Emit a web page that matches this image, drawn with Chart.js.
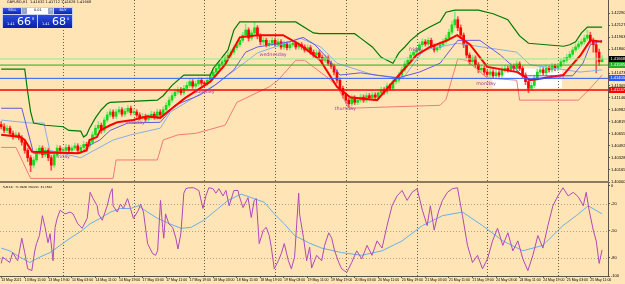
<!DOCTYPE html>
<html>
<head>
<meta charset="utf-8">
<title>GBPUSD,H1</title>
<script src="https://cdn.jsdelivr.net/npm/chart.js@4.4.1/dist/chart.umd.min.js"></script>
<style>
  html,body{margin:0;padding:0;background:#FFE4B5;}
  #wrap{position:relative;width:625px;height:284px;overflow:hidden;background:#FFE4B5;font-family:"DejaVu Sans",Arial,sans-serif;}
  canvas{position:absolute;left:0;}
  #cMain{top:0;}
  #cOsc{top:181px;}
  #sep{position:absolute;left:0;top:181px;width:609px;height:2px;background:#8A7A5A;}
  .tiny{position:absolute;transform-origin:0 0;transform:scale(0.5);white-space:nowrap;color:#000;}
  #hdr{left:7px;top:0px;font-size:7px;line-height:8px;}
  #osclbl{left:3px;top:185px;font-size:5.6px;line-height:7px;}
  #otp{position:absolute;left:2px;top:7px;width:71px;height:21px;background:#C9D3EE;}
  .bx{position:absolute;display:flex;align-items:center;justify-content:center;overflow:hidden;}
  .bx span{display:block;font-size:7px;line-height:7px;transform:scale(0.5);white-space:nowrap;}
  .blue{background:linear-gradient(#3556e4,#0b25b4);color:#fff;}
  .gray{background:#9aa6c8;color:#fff;}
  .white{background:#fff;color:#000;}
  .pbox{position:absolute;background:linear-gradient(#2a4ce0,#0a20a8);color:#fff;overflow:hidden;}
  .pbox .s{position:absolute;font-size:7px;line-height:7px;transform-origin:0 0;transform:scale(0.5);}
  .pbox .big{position:absolute;font-size:11px;line-height:11px;}
</style>
</head>
<body>
<div id="wrap">
  <canvas id="cMain" width="625" height="186"></canvas>
  <canvas id="cOsc" width="625" height="103"></canvas>
  <div id="sep"></div>
  <div id="hdr" class="tiny">GBPUSD,H1&nbsp; 1.41632 1.41712 1.41628 1.41668</div>
  <div id="otp">
    <div class="bx blue" style="left:1px;top:0.5px;width:18px;height:6px;"><span>SELL</span></div>
    <div class="bx gray" style="left:20px;top:0.5px;width:5px;height:6px;"><span>-</span></div>
    <div class="bx white" style="left:25px;top:0.5px;width:21px;height:6px;"><span>0.01</span></div>
    <div class="bx gray" style="left:46px;top:0.5px;width:5px;height:6px;"><span>+</span></div>
    <div class="bx blue" style="left:52px;top:0.5px;width:18px;height:6px;"><span>BUY</span></div>
    <div class="pbox" style="left:1px;top:8px;width:34px;height:12.5px;">
      <span class="s" style="left:4px;top:7px;">1.41</span>
      <span class="big" style="left:14px;top:1px;">66</span>
      <span class="s" style="left:28.5px;top:1.5px;">8</span>
    </div>
    <div class="pbox" style="left:36px;top:8px;width:34px;height:12.5px;">
      <span class="s" style="left:4px;top:7px;">1.41</span>
      <span class="big" style="left:14px;top:1px;">68</span>
      <span class="s" style="left:28.5px;top:1.5px;">0</span>
    </div>
  </div>
  <div id="osclbl" class="tiny">%R(14) -71.0928&nbsp; MA(20) -31.1562</div>
</div>
<script>
// ---------- DATA ----------
const priceTicks = [1.42290,1.42127,1.41963,1.41800,1.41636,1.41473,1.41309,1.41146,1.40982,1.40819,1.40655,1.40492,1.40328,1.40165,1.40000];
const priceTickLabels = ["1.42290","1.42127","1.41963","1.41800","1.41636","1.41473","1.41309","1.41146","1.40982","1.40819","1.40655","1.40492","1.40328","1.40165","1.40000"];

const timeTickBars = [0,8,16,24,32,40,48,56,64,72,80,88,96,104,112,120,128,136,144,152,160,168,176,184,192,200];
const timeLabels = ["13 May 2021","13 May 11:00","13 May 19:00","14 May 03:00","14 May 11:00","14 May 19:00","17 May 03:00","17 May 11:00","17 May 19:00","18 May 03:00","18 May 11:00","18 May 19:00","19 May 03:00","19 May 11:00","19 May 19:00","20 May 03:00","20 May 11:00","20 May 19:00","21 May 03:00","21 May 11:00","21 May 19:00","24 May 03:00","24 May 11:00","24 May 19:00","25 May 03:00","25 May 11:00"];

const daySeparators = [21,45,69,93,117,141,165,189];

const opens = [
1.4078,1.4075,1.4070,1.4073,1.4066,1.4062,1.4064,1.4060,1.4054,1.4043,
1.4033,1.4023,1.4030,1.4041,1.4046,1.4037,1.4043,1.4033,1.4023,1.4037,
1.4046,1.4043,1.4043,1.4047,1.4043,1.4046,1.4049,1.4043,1.4047,1.4051,
1.4049,1.4054,1.4064,1.4073,1.4077,1.4070,1.4084,1.4091,1.4095,1.4089,
1.4095,1.4098,1.4092,1.4096,1.4100,1.4094,1.4095,1.4091,1.4087,1.4089,
1.4085,1.4088,1.4092,1.4088,1.4095,1.4091,1.4098,1.4104,1.4111,1.4117,
1.4122,1.4125,1.4121,1.4127,1.4131,1.4136,1.4130,1.4133,1.4138,1.4134,
1.4133,1.4138,1.4144,1.4149,1.4154,1.4160,1.4163,1.4168,1.4172,1.4176,
1.4182,1.4186,1.4192,1.4199,1.4206,1.4195,1.4202,1.4209,1.4198,1.4190,
1.4192,1.4186,1.4188,1.4192,1.4186,1.4190,1.4183,1.4187,1.4182,1.4186,
1.4188,1.4183,1.4186,1.4183,1.4179,1.4182,1.4176,1.4172,1.4175,1.4169,
1.4165,1.4168,1.4161,1.4157,1.4149,1.4138,1.4127,1.4118,1.4111,1.4106,
1.4114,1.4108,1.4111,1.4115,1.4111,1.4117,1.4114,1.4118,1.4115,1.4121,
1.4125,1.4122,1.4130,1.4127,1.4136,1.4138,1.4145,1.4152,1.4160,1.4165,
1.4172,1.4176,1.4179,1.4186,1.4190,1.4187,1.4192,1.4184,1.4179,1.4182,
1.4186,1.4190,1.4195,1.4203,1.4213,1.4220,1.4209,1.4199,1.4186,1.4172,
1.4163,1.4168,1.4159,1.4152,1.4154,1.4149,1.4146,1.4149,1.4144,1.4148,
1.4145,1.4152,1.4154,1.4152,1.4157,1.4154,1.4160,1.4154,1.4145,1.4136,
1.4127,1.4131,1.4141,1.4149,1.4152,1.4148,1.4154,1.4152,1.4157,1.4154,
1.4157,1.4163,1.4165,1.4169,1.4173,1.4179,1.4183,1.4187,1.4190,1.4195,
1.4199,1.4192,1.4186,1.4176,1.4163];

const closes = [
1.4075,1.4070,1.4073,1.4066,1.4062,1.4064,1.4060,1.4054,1.4043,1.4033,
1.4023,1.4030,1.4041,1.4046,1.4037,1.4043,1.4033,1.4023,1.4037,1.4046,
1.4043,1.4043,1.4047,1.4043,1.4046,1.4049,1.4043,1.4047,1.4051,1.4049,
1.4054,1.4064,1.4073,1.4077,1.4070,1.4084,1.4091,1.4095,1.4089,1.4095,
1.4098,1.4092,1.4096,1.4100,1.4094,1.4095,1.4091,1.4087,1.4089,1.4085,
1.4088,1.4092,1.4088,1.4095,1.4091,1.4098,1.4104,1.4111,1.4117,1.4122,
1.4125,1.4121,1.4127,1.4131,1.4136,1.4130,1.4133,1.4138,1.4134,1.4133,
1.4138,1.4144,1.4149,1.4154,1.4160,1.4163,1.4168,1.4172,1.4176,1.4182,
1.4186,1.4192,1.4199,1.4206,1.4195,1.4202,1.4209,1.4198,1.4190,1.4192,
1.4186,1.4188,1.4192,1.4186,1.4190,1.4183,1.4187,1.4182,1.4186,1.4188,
1.4183,1.4186,1.4183,1.4179,1.4182,1.4176,1.4172,1.4175,1.4169,1.4165,
1.4168,1.4161,1.4157,1.4149,1.4138,1.4127,1.4118,1.4111,1.4106,1.4114,
1.4108,1.4111,1.4115,1.4111,1.4117,1.4114,1.4118,1.4115,1.4121,1.4125,
1.4122,1.4130,1.4127,1.4136,1.4138,1.4145,1.4152,1.4160,1.4165,1.4172,
1.4176,1.4179,1.4186,1.4190,1.4187,1.4192,1.4184,1.4179,1.4182,1.4186,
1.4190,1.4195,1.4203,1.4213,1.4220,1.4209,1.4199,1.4186,1.4172,1.4163,
1.4168,1.4159,1.4152,1.4154,1.4149,1.4146,1.4149,1.4144,1.4148,1.4145,
1.4152,1.4154,1.4152,1.4157,1.4154,1.4160,1.4154,1.4145,1.4136,1.4127,
1.4131,1.4141,1.4149,1.4152,1.4148,1.4154,1.4152,1.4157,1.4154,1.4157,
1.4163,1.4165,1.4169,1.4173,1.4179,1.4183,1.4187,1.4190,1.4195,1.4199,
1.4192,1.4186,1.4176,1.4163,1.41668];

const highs = [
1.4082,1.4079,1.4077,1.4076,1.4069,1.4068,1.4067,1.4063,1.4057,1.4046,
1.4036,1.4034,1.4045,1.4050,1.4049,1.4047,1.4046,1.4036,1.4040,1.4050,
1.4049,1.4047,1.4051,1.4050,1.4049,1.4053,1.4052,1.4050,1.4055,1.4054,
1.4058,1.4068,1.4077,1.4082,1.4080,1.4088,1.4095,1.4099,1.4098,1.4099,
1.4102,1.4101,1.4100,1.4104,1.4103,1.4099,1.4098,1.4094,1.4093,1.4092,
1.4092,1.4096,1.4095,1.4099,1.4098,1.4102,1.4108,1.4115,1.4121,1.4126,
1.4129,1.4128,1.4131,1.4135,1.4140,1.4139,1.4137,1.4142,1.4141,1.4137,
1.4142,1.4148,1.4153,1.4158,1.4164,1.4167,1.4172,1.4176,1.4180,1.4186,
1.4190,1.4196,1.4203,1.4214,1.4209,1.4206,1.4217,1.4212,1.4201,1.4196,
1.4195,1.4192,1.4196,1.4195,1.4194,1.4193,1.4191,1.4190,1.4190,1.4192,
1.4191,1.4190,1.4189,1.4186,1.4186,1.4185,1.4179,1.4179,1.4178,1.4172,
1.4172,1.4171,1.4164,1.4160,1.4152,1.4141,1.4130,1.4121,1.4114,1.4118,
1.4117,1.4115,1.4119,1.4118,1.4121,1.4120,1.4122,1.4121,1.4125,1.4129,
1.4128,1.4134,1.4133,1.4140,1.4142,1.4149,1.4156,1.4164,1.4169,1.4176,
1.4180,1.4183,1.4190,1.4194,1.4193,1.4196,1.4195,1.4187,1.4186,1.4190,
1.4194,1.4199,1.4207,1.4218,1.4230,1.4224,1.4213,1.4202,1.4189,1.4175,
1.4172,1.4171,1.4162,1.4158,1.4157,1.4152,1.4153,1.4152,1.4152,1.4151,
1.4156,1.4158,1.4157,1.4161,1.4160,1.4164,1.4163,1.4157,1.4148,1.4139,
1.4135,1.4145,1.4153,1.4156,1.4155,1.4158,1.4157,1.4161,1.4160,1.4161,
1.4167,1.4169,1.4173,1.4177,1.4183,1.4187,1.4191,1.4194,1.4199,1.4206,
1.4203,1.4195,1.4189,1.4180,1.41712];

const lows = [
1.4072,1.4067,1.4067,1.4063,1.4058,1.4059,1.4057,1.4050,1.4039,1.4028,
1.4014,1.4019,1.4027,1.4037,1.4033,1.4034,1.4029,1.4016,1.4020,1.4034,
1.4039,1.4040,1.4040,1.4039,1.4040,1.4043,1.4040,1.4040,1.4044,1.4046,
1.4046,1.4051,1.4061,1.4070,1.4066,1.4067,1.4081,1.4088,1.4086,1.4086,
1.4092,1.4089,1.4089,1.4093,1.4091,1.4091,1.4088,1.4084,1.4084,1.4082,
1.4082,1.4085,1.4085,1.4085,1.4088,1.4088,1.4095,1.4101,1.4108,1.4114,
1.4119,1.4118,1.4118,1.4124,1.4128,1.4127,1.4127,1.4130,1.4131,1.4130,
1.4130,1.4135,1.4141,1.4146,1.4151,1.4157,1.4160,1.4165,1.4169,1.4173,
1.4179,1.4183,1.4189,1.4196,1.4191,1.4192,1.4199,1.4194,1.4186,1.4186,
1.4183,1.4183,1.4185,1.4183,1.4183,1.4180,1.4180,1.4179,1.4179,1.4183,
1.4180,1.4180,1.4180,1.4176,1.4176,1.4173,1.4169,1.4169,1.4166,1.4162,
1.4162,1.4158,1.4154,1.4145,1.4134,1.4123,1.4114,1.4107,1.4102,1.4103,
1.4105,1.4105,1.4108,1.4108,1.4108,1.4111,1.4111,1.4112,1.4112,1.4118,
1.4119,1.4119,1.4124,1.4124,1.4133,1.4135,1.4142,1.4149,1.4157,1.4162,
1.4169,1.4173,1.4176,1.4183,1.4184,1.4184,1.4181,1.4176,1.4176,1.4179,
1.4183,1.4187,1.4192,1.4200,1.4209,1.4205,1.4195,1.4182,1.4168,1.4159,
1.4160,1.4155,1.4148,1.4149,1.4145,1.4143,1.4143,1.4141,1.4141,1.4142,
1.4142,1.4149,1.4149,1.4149,1.4151,1.4151,1.4151,1.4141,1.4132,1.4121,
1.4124,1.4128,1.4138,1.4146,1.4145,1.4145,1.4149,1.4149,1.4151,1.4151,
1.4154,1.4160,1.4162,1.4166,1.4170,1.4176,1.4180,1.4184,1.4187,1.4192,
1.4188,1.4176,1.4148,1.4158,1.41628];

// indicator lines [bar, price]
const upperLine = [[0,1.4153],[8,1.4153],[9,1.4122],[10,1.4095],[11,1.4080],[15,1.4077],[21,1.4075],[23,1.4070],[27,1.4069],[28,1.4061],[29,1.4064],[30,1.4073],[32,1.4087],[34,1.4098],[36,1.4106],[37,1.4108],[53,1.4111],[55,1.4117],[58,1.4131],[62,1.4145],[71,1.4145],[72,1.4154],[75,1.4169],[77,1.4179],[79,1.4206],[81,1.4217],[100,1.4217],[106,1.4202],[108,1.4201],[120,1.4201],[122,1.4195],[126,1.4183],[129,1.4169],[133,1.4161],[135,1.4175],[137,1.4183],[139,1.4192],[142,1.4202],[145,1.4209],[149,1.4217],[151,1.4230],[154,1.4233],[162,1.4233],[167,1.4228],[172,1.4220],[174,1.4209],[176,1.4198],[179,1.4188],[191,1.4184],[193,1.4186],[195,1.4190],[197,1.4202],[199,1.4210],[204,1.4210]];
const midLine = [[0,1.4064],[6.5,1.4061],[8,1.4057],[10.5,1.4041],[26,1.4039],[29,1.4043],[30,1.4057],[32.5,1.4061],[33.6,1.4070],[37,1.4077],[39.4,1.4081],[44.8,1.4084],[49.6,1.4089],[54,1.4087],[57.4,1.4098],[62.5,1.4114],[67.5,1.4127],[71,1.4136],[76,1.4159],[81,1.4196],[87,1.4199],[95.7,1.4199],[101.5,1.4186],[108.3,1.4165],[114,1.4129],[118.5,1.4115],[127.6,1.4111],[134.4,1.4142],[141,1.4172],[145.6,1.4183],[151.4,1.4192],[154.8,1.4199],[159.2,1.4186],[165,1.4156],[175.2,1.4149],[179.6,1.4138],[190.8,1.4145],[196.7,1.4172],[200,1.4192],[204,1.4190]];
const lowerLine = [[0,1.4047],[5,1.4047],[7.5,1.4026],[10,1.4005],[38,1.4005],[39,1.4030],[53,1.4030],[55,1.4057],[60,1.4064],[66,1.4066],[76,1.4077],[80,1.4108],[91,1.4129],[94,1.4138],[100,1.4165],[103,1.4165],[111,1.4141],[114,1.4130],[118,1.4100],[149,1.4104],[151,1.4112],[155,1.4167],[158,1.4165],[165,1.4141],[175,1.4138],[176,1.4111],[196,1.4111],[200,1.4127],[204,1.4145]];
const blueLine = [[0,1.4100],[7,1.4100],[11,1.4039],[27,1.4039],[30,1.4050],[33.5,1.4057],[37,1.4070],[43,1.4080],[54,1.4081],[59,1.4104],[67.5,1.4118],[72.5,1.4131],[79,1.4152],[83,1.4176],[87,1.4183],[98,1.4190],[102.5,1.4196],[106.5,1.4186],[110.5,1.4169],[115,1.4145],[122,1.4148],[134.5,1.4141],[142,1.4149],[149,1.4161],[155,1.4192],[162.5,1.4192],[169.5,1.4172],[175,1.4152],[177,1.4144],[194,1.4144],[197.5,1.4161],[200,1.4186],[204,1.4192]];
const lightBlueLine = [[0,1.4084],[10,1.4080],[14.5,1.4080],[16.5,1.4043],[27,1.4033],[38,1.4057],[44,1.4064],[54,1.4073],[57.5,1.4095],[73.5,1.4134],[87,1.4175],[101.5,1.4195],[108.5,1.4183],[114,1.4161],[126.5,1.4145],[136.5,1.4141],[143.5,1.4179],[155,1.4188],[175,1.4176],[179.5,1.4159],[196.5,1.4149],[204,1.4152]];

const levelPrices = [1.41668,1.41585,1.41405,1.41247];
const levelLabels = ["1.41668","1.41585","1.41405","1.41247"];

const dayNames = ["friday","monday","tuesday","wednesday","thursday","friday","monday","tuesday"];
const dayNameBars = [21,45.5,69.2,92.3,116.8,140.8,164.6,188];
const dayNamePrices = [1.4034,1.4080,1.4123,1.4173,1.4099,1.4179,1.4133,1.4142];

const whiteBox = [166.8,190.4,1.4154,1.4127];

// Williams %R and its MA [bar, value]
const wpr = [[0,-86],[0.5,-79],[2.9,-85],[3.9,-74],[5.6,-83],[7,-58],[8,-74],[9,-92],[10.4,-94],[11.4,-72],[12,-64],[13,-55],[14,-33],[14.9,-46],[15.9,-63],[16.6,-53],[17.6,-83],[18.3,-46],[19,-36],[20,-27],[21.7,-31],[23.4,-29],[24.4,-31],[26,-42],[27.5,-47],[29.2,-36],[30.2,-7],[31.2,-14],[32.6,-22],[33,-31],[34.3,-38],[36,-22],[37,-8],[37.7,-3],[38,-22],[39.4,-29],[40.5,-20],[41.5,-25],[42.9,-14],[43.9,-25],[44.9,-36],[46.6,-27],[47.3,-20],[48.3,-29],[49.7,-64],[51.4,-75],[52.4,-77],[53.1,-72],[54.1,-16],[54.8,-46],[55.2,-58],[55.8,-31],[56.9,-42],[58.2,-46],[59.3,-58],[60,-70],[61,-53],[62,-8],[62.7,-3],[63.7,-2],[65.4,-2],[67.1,-5],[68.5,-25],[69.5,-11],[70.5,-2],[71.9,-3],[72.9,-8],[73.9,-3],[75.3,-11],[76.3,-5],[77.4,-22],[79,-5],[80.4,-5],[80.8,-11],[82.1,-24],[83.8,-13],[84.9,-35],[85.9,-16],[86.6,-14],[87.6,-64],[89,-49],[90,-46],[91,-55],[91.7,-68],[92.7,-92],[94.1,-83],[95.1,-75],[96.1,-64],[97.5,-83],[98.5,-92],[99.6,-79],[101,-8],[101.3,-31],[102.6,-57],[103.7,-83],[104.7,-68],[105.4,-91],[107.1,-77],[108.8,-83],[109.8,-66],[111.2,-52],[112.2,-58],[113.2,-72],[114.6,-85],[115.6,-92],[117.3,-96],[119,-85],[120.7,-72],[122.4,-81],[124.2,-66],[125.9,-77],[127.6,-61],[129.3,-69],[131,-44],[132.7,-22],[134.4,-11],[136.1,-5],[137.8,-16],[139.5,-7],[141.2,-3],[143,-27],[144.6,-44],[145.7,-22],[147,-49],[148.4,-29],[149.8,-16],[151.5,-7],[153.2,-3],[154.9,-2],[156.6,-33],[158.3,-66],[160,-85],[161.7,-77],[163.4,-92],[165.1,-81],[166.8,-61],[168.5,-47],[170.3,-66],[172,-52],[173.7,-72],[175.4,-61],[177.1,-81],[178.8,-94],[180.5,-77],[182.2,-55],[183.9,-69],[185.6,-44],[187.3,-22],[189,-11],[190.7,-2],[192.5,-11],[194.2,-7],[195.9,-12],[197.6,-22],[198.6,-7],[199.6,-27],[201,-49],[202,-61],[203,-86],[204,-71]];
const wprMA = [[0,-69],[2.9,-72],[6.3,-79],[9.7,-85],[13.1,-79],[16.6,-74],[20,-66],[23.4,-58],[26.8,-51],[30.2,-42],[33.6,-36],[37.1,-29],[40.5,-25],[43.9,-25],[46.6,-22],[49.7,-29],[53.1,-36],[56.5,-41],[61,-47],[64.4,-46],[68.8,-38],[72.2,-29],[77,-16],[81.5,-9],[84.9,-13],[89.3,-18],[92.7,-31],[96.1,-42],[99.6,-55],[104.3,-63],[108.8,-69],[115.6,-74],[122.4,-77],[129.3,-72],[136.1,-61],[143,-44],[149.8,-33],[156.6,-29],[163.4,-44],[170.3,-61],[177.1,-72],[183.9,-66],[190.7,-44],[195.2,-33],[199.3,-22],[204,-31]];

const rsiTicks = [0,-20,-50,-80,-100];
const rsiTickLabels = ["0","-20","-50","-80","-100"];
const rsiGridLevels = [-20,-50,-80];

// ---------- STYLE ----------
const X0 = -0.4, X1 = 206;
const AXIS = '#5C5648';
const SMALL_FONT = '"Liberation Sans", Arial, sans-serif';
const levelColors = ['#90EE90','#22B022','#2A5CFF','#FF0000'];
const levelWidths = [1,1,1,1.5];
const levelBoxColors = ['#000000','#22B022','#2A5CFF','#FF0000'];
const bullBody = '#18D818', bullWick = '#88E888', bearBody = '#FF0000', bearWick = '#FF5050';
const pts = arr => arr.map(p => ({x:p[0], y:p[1]}));

const mainDecor = {
  id:'mainDecor',
  beforeDatasetsDraw(chart){
    const {ctx, chartArea:a, scales:{x,y}} = chart;
    ctx.save();
    ctx.fillStyle = '#FFFFFF';
    const bx0 = x.getPixelForValue(whiteBox[0]), bx1 = x.getPixelForValue(whiteBox[1]);
    const by0 = y.getPixelForValue(whiteBox[2]), by1 = y.getPixelForValue(whiteBox[3]);
    ctx.fillRect(bx0, by0, bx1-bx0, by1-by0);
    ctx.strokeStyle = '#6A5A40'; ctx.lineWidth = 1; ctx.setLineDash([1,2]);
    daySeparators.forEach(b => {
      const px = Math.round(x.getPixelForValue(b)) + 0.5;
      ctx.beginPath(); ctx.moveTo(px, 0); ctx.lineTo(px, a.bottom); ctx.stroke();
    });
    ctx.restore();
  },
  afterDatasetsDraw(chart){
    const {ctx, scales:{x,y}} = chart;
    ctx.save();
    ctx.fillStyle = '#A040B0';
    ctx.font = '4.8px "DejaVu Sans", sans-serif';
    ctx.textAlign = 'center'; ctx.textBaseline = 'middle';
    dayNames.forEach((t,i) => ctx.fillText(t, x.getPixelForValue(dayNameBars[i]), y.getPixelForValue(dayNamePrices[i])));
    ctx.restore();
  },
  afterDraw(chart){
    const {ctx, chartArea:a, scales:{y}} = chart;
    ctx.save();
    ctx.strokeStyle = AXIS; ctx.lineWidth = 1;
    ctx.beginPath(); ctx.moveTo(a.right + 0.5, 0); ctx.lineTo(a.right + 0.5, a.bottom); ctx.stroke();
    ctx.font = '4px ' + SMALL_FONT; ctx.textBaseline = 'middle'; ctx.textAlign = 'left';
    levelPrices.forEach((p,i) => {
      const py = y.getPixelForValue(p);
      ctx.fillStyle = levelBoxColors[i];
      ctx.fillRect(a.right + 1, Math.round(py) - 3, 16, 6);
      ctx.fillStyle = '#FFFFFF';
      ctx.fillText(levelLabels[i], a.right + 2.5, py);
    });
    ctx.restore();
  }
};

const oscDecor = {
  id:'oscDecor',
  beforeDatasetsDraw(chart){
    const {ctx, chartArea:a, scales:{x,y}} = chart;
    ctx.save(); ctx.lineWidth = 1; ctx.setLineDash([1,2]);
    ctx.strokeStyle = '#B4A27E';
    rsiGridLevels.forEach(v => {
      const py = Math.round(y.getPixelForValue(v)) + 0.5;
      ctx.beginPath(); ctx.moveTo(a.left, py); ctx.lineTo(a.right, py); ctx.stroke();
    });
    ctx.strokeStyle = '#6A5A40';
    daySeparators.forEach(b => {
      const px = Math.round(x.getPixelForValue(b)) + 0.5;
      ctx.beginPath(); ctx.moveTo(px, a.top); ctx.lineTo(px, a.bottom); ctx.stroke();
    });
    ctx.restore();
  },
  afterDraw(chart){
    const {ctx, chartArea:a} = chart;
    ctx.save(); ctx.strokeStyle = AXIS; ctx.lineWidth = 1;
    ctx.beginPath(); ctx.moveTo(a.right + 0.5, 0); ctx.lineTo(a.right + 0.5, a.bottom); ctx.stroke();
    ctx.restore();
  }
};

// ---------- MAIN CHART ----------
const mainSets = [];
levelPrices.forEach((p,i) => mainSets.push({type:'line', data:[{x:X0,y:p},{x:X1,y:p}], borderColor:levelColors[i], borderWidth:levelWidths[i], pointRadius:0}));
mainSets.push({type:'line', data:pts(midLine), borderColor:'#FF0000', borderWidth:2, pointRadius:0});
mainSets.push({type:'line', data:pts(upperLine), borderColor:'#007A00', borderWidth:1.2, pointRadius:0});
mainSets.push({type:'line', data:pts(lowerLine), borderColor:'#F47878', borderWidth:1, pointRadius:0});
mainSets.push({type:'line', data:pts(blueLine), borderColor:'#6458E0', borderWidth:1, pointRadius:0});
mainSets.push({type:'line', data:pts(lightBlueLine), borderColor:'#86AEE8', borderWidth:1, pointRadius:0});
mainSets.push({type:'bar', data:closes.map((c,i) => ({x:i, y:[opens[i], c]})),
  backgroundColor:closes.map((c,i) => c >= opens[i] ? bullBody : bearBody),
  barThickness:2, grouped:false, minBarLength:1, borderWidth:0});
mainSets.push({type:'bar', data:highs.map((h,i) => ({x:i, y:[lows[i], h]})),
  backgroundColor:closes.map((c,i) => c >= opens[i] ? bullWick : bearWick),
  barThickness:1, grouped:false, borderWidth:0});

new Chart(document.getElementById('cMain'), {
  type:'bar',
  data:{datasets:mainSets},
  plugins:[mainDecor],
  options:{
    responsive:false, maintainAspectRatio:false, animation:false, devicePixelRatio:1, events:[],
    layout:{padding:{left:0, right:0, top:4, bottom:5}},
    plugins:{legend:{display:false}, tooltip:{enabled:false}},
    scales:{
      x:{type:'linear', min:X0, max:X1, offset:false, display:false},
      y:{type:'linear', position:'right', min:1.40015, max:1.42412,
        afterBuildTicks:s => { s.ticks = priceTicks.map(v => ({value:v})); },
        afterFit:s => { s.width = 17; },
        ticks:{autoSkip:false, padding:1, color:'#000', font:{size:4, family:SMALL_FONT}, callback:(v,i) => priceTickLabels[i]},
        grid:{drawOnChartArea:false, drawTicks:true, tickLength:2, color:AXIS},
        border:{display:true, color:AXIS, width:1}
      }
    }
  }
});

// ---------- OSCILLATOR CHART ----------
new Chart(document.getElementById('cOsc'), {
  type:'line',
  data:{datasets:[
    {data:pts(wpr), borderColor:'#B048B8', borderWidth:1, pointRadius:0},
    {data:pts(wprMA), borderColor:'#6AAEE8', borderWidth:1, pointRadius:0}
  ]},
  plugins:[oscDecor],
  options:{
    responsive:false, maintainAspectRatio:false, animation:false, devicePixelRatio:1, events:[],
    layout:{padding:{left:0, right:0, top:4, bottom:0}},
    plugins:{legend:{display:false}, tooltip:{enabled:false}},
    scales:{
      x:{type:'linear', min:X0, max:X1, offset:false,
        afterBuildTicks:s => { s.ticks = timeTickBars.map(v => ({value:v})); },
        afterFit:s => { s.height = 8; },
        ticks:{autoSkip:false, maxRotation:0, minRotation:0, align:'start', padding:0, color:'#000', font:{size:3.5, family:SMALL_FONT}, callback:(v,i) => timeLabels[i]},
        grid:{drawOnChartArea:false, drawTicks:true, tickLength:2, color:AXIS},
        border:{display:true, color:AXIS, width:1}
      },
      y:{type:'linear', position:'right', min:-100, max:1.1,
        afterBuildTicks:s => { s.ticks = rsiTicks.map(v => ({value:v})); },
        afterFit:s => { s.width = 17; },
        ticks:{autoSkip:false, padding:1, color:'#000', font:{size:4, family:SMALL_FONT}, callback:(v,i) => rsiTickLabels[i]},
        grid:{drawOnChartArea:false, drawTicks:true, tickLength:2, color:AXIS},
        border:{display:true, color:AXIS, width:1}
      }
    }
  }
});
</script>
</body>
</html>
